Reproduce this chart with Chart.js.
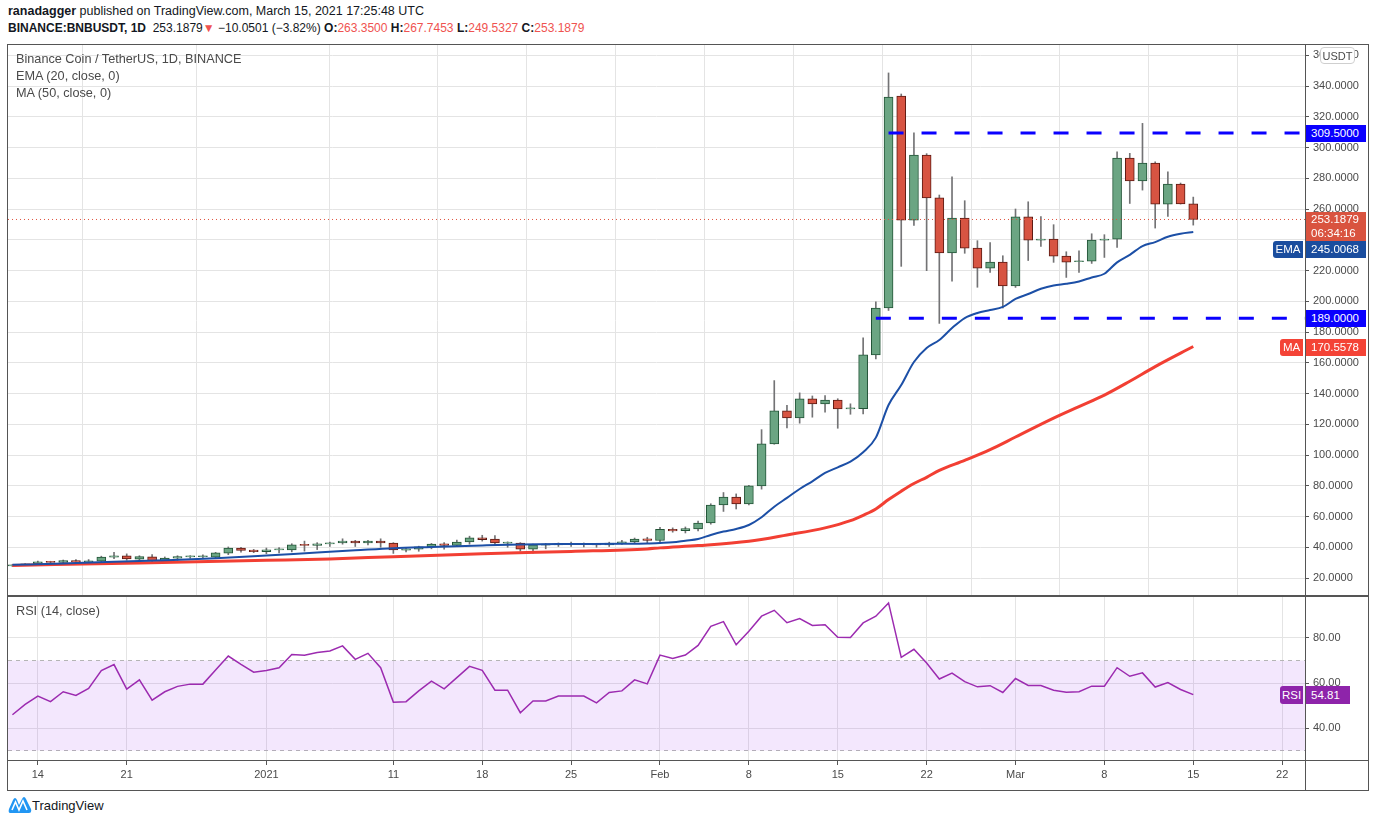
<!DOCTYPE html>
<html>
<head>
<meta charset="utf-8">
<title>BNBUSDT 1D</title>
<script src="https://cdn.jsdelivr.net/npm/chart.js@4.4.0/dist/chart.umd.min.js"></script>
<style>
body { margin: 0; width: 1376px; height: 823px; background: #fff; position: relative; overflow: hidden;
       font-family: 'Liberation Sans', Arial, sans-serif; color: #131722; }
.abs { position: absolute; white-space: nowrap; }
.red { color: #ef5350; }
#header1 { left: 8px; top: 4px; font-size: 12.5px; }
#header2 { left: 8px; top: 21px; font-size: 12px; }
.legend { left: 16px; font-size: 12.7px; color: #4a4a4a; }
.box { position: absolute; }
.line { position: absolute; background: #555; }
.tag { position: absolute; color: #fff; font-size: 11.5px; box-sizing: border-box; padding-left: 5px; white-space: nowrap; }
.side { position: absolute; color: #fff; font-size: 11.5px; box-sizing: border-box; text-align: center; border-radius: 3px 0 0 3px; }
#usdt { left: 1320px; top: 47px; width: 35px; height: 17px; border: 1px solid #cfcfcf; border-radius: 4px; background: #fff;
        font-size: 11px; color: #4a4a4a; text-align: center; line-height: 17px; box-sizing: border-box; }
#logo { left: 8px; top: 796px; font-size: 13px; color: #131722; }
</style>
</head>
<body>

<div id="header1" class="abs"><b>ranadagger</b> published on TradingView.com, March 15, 2021 17:25:48 UTC</div>
<div id="header2" class="abs"><b>BINANCE:BNBUSDT, 1D</b>&nbsp; 253.1879<span class="red">&#9660;</span> &minus;10.0501 (&minus;3.82%) <b>O:</b><span class="red">263.3500</span> <b>H:</b><span class="red">267.7453</span> <b>L:</b><span class="red">249.5327</span> <b>C:</b><span class="red">253.1879</span></div>

<div class="box" style="left:8px;top:45px;width:1360px;height:551px;"><canvas id="priceChart"></canvas></div>
<div class="box" style="left:8px;top:597px;width:1360px;height:193px;"><canvas id="rsiChart"></canvas></div>

<!-- frame -->
<div class="line" style="left:7px;top:44px;width:1362px;height:1px;"></div>
<div class="line" style="left:7px;top:44px;width:1px;height:747px;"></div>
<div class="line" style="left:1368px;top:44px;width:1px;height:747px;"></div>
<div class="line" style="left:7px;top:790px;width:1362px;height:1px;"></div>
<div class="line" style="left:7px;top:595px;width:1362px;height:2px;"></div>
<div class="line" style="left:7px;top:760px;width:1362px;height:1px;"></div>
<div class="line" style="left:1305px;top:44px;width:1px;height:747px;"></div>

<div class="abs legend" style="top:52px;">Binance Coin / TetherUS, 1D, BINANCE</div>
<div class="abs legend" style="top:69px;">EMA (20, close, 0)</div>
<div class="abs legend" style="top:86px;">MA (50, close, 0)</div>
<div class="abs legend" style="top:604px;">RSI (14, close)</div>
<div id="usdt" class="abs">USDT</div>

<div id="logo" class="abs">
  <svg width="24" height="18" viewBox="0 0 24 18" style="vertical-align:-4px">
    <path d="M2 17 Q0 17 1 13 L5 4 Q7 0 9 4 L11 9 L14 3 Q16 -1 18 3 L23 13 Q24 17 21 17 Z" fill="#2196f3"/>
    <path d="M4 14 L7.5 6 L11 14 L15 5 L19 14" stroke="#fff" stroke-width="1.6" fill="none"/>
  </svg>TradingView
</div>

<script>
// daily candles, index 0 = 12 Dec 2020, index 93 = 15 Mar 2021
const opens = [
    27.9, 28.4, 29.2, 30.6, 30.2, 31.3, 30.3, 31.0, 33.5, 34.4,
    32.3, 33.8, 31.3, 32.9, 33.7, 33.8, 33.6, 36.1, 39.5, 38.2,
    37.2, 38.3, 38.3, 41.7, 41.2, 42.1, 42.9, 44.1, 42.8, 44.1,
    42.8, 38.1, 38.7, 40.2, 42.3, 41.2, 43.4, 46.2, 45.4, 42.7,
    42.8, 38.7, 41.4, 41.6, 41.8, 41.7, 42.3, 41.5, 42.8, 43.4,
    45.5, 44.4, 51.6, 50.8, 51.9, 55.8, 67.5, 72.7, 68.2, 79.9,
    107.2, 128.7, 124.1, 136.5, 133.3, 135.8, 130.0, 130.2, 165.1, 195.6,
    333.5, 252.8, 295.1, 267.2, 231.4, 254.1, 234.6, 221.6, 225.5, 209.9,
    254.9, 239.8, 240.4, 229.4, 225.7, 226.1, 239.8, 240.4, 293.1, 278.2,
    289.9, 263.2, 276.2, 263.35
];
const highs = [
    28.7, 29.4, 31.0, 30.9, 31.7, 32.0, 32.0, 34.2, 36.7, 35.7,
    34.5, 35.2, 33.7, 34.5, 34.5, 35.0, 36.7, 40.2, 40.0, 38.6,
    39.5, 39.8, 42.3, 44.0, 43.0, 43.3, 45.5, 44.5, 44.5, 45.5,
    43.0, 39.5, 40.7, 42.5, 43.0, 44.7, 47.2, 47.8, 47.6, 43.5,
    43.0, 42.0, 42.5, 42.8, 43.3, 42.8, 42.5, 43.3, 44.5, 46.0,
    46.5, 53.0, 52.6, 53.2, 57.0, 68.3, 75.6, 74.7, 80.3, 116.5,
    148.4, 132.3, 140.4, 138.4, 138.6, 136.6, 133.3, 176.2, 199.7, 348.5,
    334.8, 309.6, 296.0, 269.1, 281.0, 265.4, 239.4, 238.1, 229.6, 260.0,
    264.7, 255.0, 249.8, 232.2, 232.8, 243.9, 243.3, 297.2, 296.2, 315.7,
    290.7, 284.2, 276.9, 267.7453
];
const lows = [
    27.5, 28.1, 28.9, 29.9, 29.8, 29.9, 30.0, 30.6, 32.6, 31.6,
    31.0, 30.5, 30.2, 31.5, 32.8, 32.5, 33.0, 35.2, 36.8, 36.5,
    35.8, 36.3, 37.0, 37.5, 38.5, 40.5, 42.0, 40.5, 41.5, 40.0,
    36.0, 37.0, 37.4, 39.0, 38.7, 40.5, 42.0, 44.0, 41.5, 40.0,
    37.5, 36.2, 39.0, 40.5, 40.6, 40.2, 40.0, 40.5, 41.8, 42.7,
    43.0, 43.2, 49.8, 49.3, 50.7, 55.0, 63.3, 64.9, 67.6, 77.8,
    107.0, 117.6, 120.7, 124.6, 127.8, 117.4, 126.5, 126.7, 162.5, 194.0,
    222.7, 249.4, 219.9, 185.6, 213.0, 231.2, 209.1, 218.8, 195.6, 209.0,
    226.5, 235.7, 225.3, 215.5, 218.8, 224.6, 228.5, 235.0, 263.6, 272.3,
    247.6, 255.2, 263.2, 249.5327
];
const closes = [
    28.4, 29.2, 30.6, 30.2, 31.3, 30.3, 31.2, 33.6, 34.4, 32.4,
    33.9, 31.3, 33.0, 33.9, 33.9, 34.0, 36.3, 39.5, 38.0, 37.2,
    38.4, 38.6, 41.5, 41.2, 42.3, 42.9, 44.1, 42.8, 44.1, 42.8,
    38.2, 38.9, 40.2, 42.1, 41.2, 43.4, 46.2, 44.9, 42.8, 42.9,
    38.7, 41.5, 41.7, 42.3, 42.3, 42.3, 41.5, 42.8, 43.6, 45.3,
    44.4, 51.6, 50.6, 52.1, 55.8, 67.5, 72.7, 68.2, 79.9, 107.2,
    128.7, 124.1, 136.5, 133.3, 135.8, 130.0, 130.4, 165.1, 195.6, 332.8,
    252.8, 295.1, 267.2, 231.4, 254.1, 234.6, 221.6, 225.5, 209.9, 254.9,
    239.8, 240.4, 229.4, 225.5, 226.0, 239.8, 240.4, 293.1, 278.2, 289.9,
    263.2, 276.2, 263.35, 253.1879
];

const rsiValues = [
    45.9, 50.5, 54.2, 51.7, 56.1, 54.5, 57.6, 65.5, 68.2, 57.3,
    61.4, 52.4, 56.1, 58.5, 59.5, 59.5, 65.8, 72.0, 68.3, 64.8,
    65.6, 66.8, 72.7, 72.3, 73.6, 74.2, 76.5, 70.5, 73.2, 66.8,
    51.5, 51.7, 56.5, 60.8, 57.4, 62.4, 67.4, 65.6, 56.8, 56.8,
    46.8, 52.0, 52.0, 54.2, 54.2, 54.2, 51.2, 55.8, 56.5, 61.4,
    59.6, 72.4, 70.9, 72.4, 76.7, 85.2, 87.3, 77.0, 83.0, 89.7,
    92.3, 86.8, 88.6, 85.6, 85.9, 80.3, 80.2, 86.7, 89.7, 95.6,
    71.4, 75.0, 68.9, 61.8, 64.4, 60.6, 58.3, 58.8, 55.8, 62.0,
    58.9, 58.9, 56.8, 55.9, 56.1, 58.6, 58.6, 66.8, 63.0, 64.5,
    58.2, 60.2, 57.1, 54.81
];

// EMA 20 and MA 50 at these days
const emaDays = [0, 4, 8, 12, 16, 20, 24, 27, 30, 33, 37, 40, 44, 48, 50, 51, 52, 53, 54, 55, 56, 57, 58,
    59, 60, 61, 62, 63, 64, 65, 66, 67, 68, 69, 70, 71, 72, 73, 74, 75, 76, 77, 78, 79, 80, 81, 82, 83,
    84, 85, 86, 87, 88, 89, 90, 91, 92, 93];
const emaValues = [28.6, 29.4, 30.6, 31.6, 32.8, 34.6, 36.6, 38.0, 39.4, 40.2, 41.2, 41.8, 42.1, 42.3, 42.5,
    42.8, 43.2, 44.3, 45.4, 48.0, 50.2, 51.9, 54.5, 59.5, 66.4, 72.1, 77.9, 82.9, 88.3, 92.0, 95.7, 101.8,
    111.3, 132.5, 145.5, 160.5, 169.6, 174.8, 182.6, 189.1, 192.4, 194.3, 196.3, 201.5, 204.7, 208.1, 210.3,
    211.4, 212.9, 215.5, 217.9, 225.3, 230.2, 235.9, 238.5, 242.0, 243.9, 245.0068];
const maDays = [0, 10, 20, 25, 30, 37, 44, 50, 51, 54, 58, 61, 64, 66, 67, 68, 69, 70, 71, 72, 73, 75, 77,
    79, 82, 84, 86, 88, 90, 93];
const maValues = [28.2, 29.8, 31.5, 32.4, 33.9, 35.8, 37.3, 38.9, 39.6, 41.1, 43.9, 48.0, 52.6, 57.3, 60.8,
    64.9, 71.0, 76.5, 81.5, 85.5, 90.0, 96.5, 103.5, 111.7, 124.0, 131.5, 139.0, 148.0, 157.5, 170.5578];

const tickDays = [2, 9, 20, 30, 37, 44, 51, 58, 65, 72, 79, 86, 93, 100];
const tickLabels = ['14', '21', '2021', '11', '18', '25', 'Feb', '8', '15', '22', 'Mar', '8', '15', '22'];
const priceTicks = [20, 40, 60, 80, 100, 120, 140, 160, 180, 200, 220, 240, 260, 280, 300, 320, 340, 360];
const rsiTicks = [40, 60, 80];

const levelValues = [309.5, 189];
const levelStartDays = [69, 68];
const lastPrice = 253.1879;
const lastEma = 245.0068;
const lastMa = 170.5578;
const lastRsi = 54.81;

const dayMin = -0.35;
const dayMax = 101.8;

Chart.defaults.font.family = "'Liberation Sans', Arial, sans-serif";
Chart.defaults.font.size = 11;
Chart.defaults.color = '#4a4a4a';

const gridColor = '#e4e4e4';

function timeAxis(showLabels) {
    return {
        type: 'linear',
        min: dayMin,
        max: dayMax,
        offset: false,
        afterBuildTicks: function (scale) {
            scale.ticks = tickDays.map(d => ({ value: d }));
        },
        afterFit: function (scale) {
            scale.height = showLabels ? 30 : 0;
            scale.paddingLeft = 0;
            scale.paddingRight = 0;
        },
        ticks: {
            display: showLabels,
            autoSkip: false,
            maxRotation: 0,
            padding: 3,
            callback: (v, i) => tickLabels[i]
        },
        grid: { color: gridColor, drawTicks: showLabels, tickLength: 5, tickColor: '#555' },
        border: { display: false }
    };
}

function valueAxis(min, max, ticks, digits) {
    return {
        position: 'right',
        min: min,
        max: max,
        afterBuildTicks: function (scale) {
            scale.ticks = ticks.map(v => ({ value: v }));
        },
        afterFit: function (scale) {
            scale.width = 63;
            scale.paddingTop = 0;
            scale.paddingBottom = 0;
        },
        ticks: { padding: 4, callback: v => v.toFixed(digits) },
        grid: { color: gridColor, tickLength: 4, tickColor: '#555' },
        border: { display: false }
    };
}

function flatLine(value, fromDay) {
    return [{ x: fromDay, y: value }, { x: dayMax, y: value }];
}

const bodyColors = opens.map((o, i) => closes[i] >= o ? '#6ba583' : '#d75442');
const bodyBorders = opens.map((o, i) => closes[i] >= o ? '#225437' : '#5b1a13');

const priceChart = new Chart(document.getElementById('priceChart'), {
    type: 'bar',
    data: {
        datasets: [
            {
                type: 'line', order: 0,
                data: flatLine(lastPrice, dayMin),
                borderColor: '#e0533f', borderWidth: 1, borderDash: [1, 3], pointRadius: 0
            },
            {
                type: 'line', order: 1,
                data: flatLine(levelValues[0], levelStartDays[0]),
                borderColor: '#0a00ff', borderWidth: 3, borderDash: [15, 18], pointRadius: 0
            },
            {
                type: 'line', order: 1,
                data: flatLine(levelValues[1], levelStartDays[1]),
                borderColor: '#0a00ff', borderWidth: 3, borderDash: [15, 18], pointRadius: 0
            },
            {
                type: 'line', order: 2,
                data: emaDays.map((d, k) => ({ x: d, y: emaValues[k] })),
                borderColor: '#1c4fa6', borderWidth: 2, pointRadius: 0, cubicInterpolationMode: 'monotone'
            },
            {
                type: 'line', order: 3,
                data: maDays.map((d, k) => ({ x: d, y: maValues[k] })),
                borderColor: '#f23f33', borderWidth: 3, pointRadius: 0, cubicInterpolationMode: 'monotone'
            },
            {
                order: 4,
                data: opens.map((o, i) => ({ x: i, y: [o, closes[i]] })),
                backgroundColor: bodyColors,
                borderColor: bodyBorders,
                borderWidth: 1,
                borderSkipped: false,
                barThickness: 9,
                minBarLength: 1,
                grouped: false
            },
            {
                order: 5,
                data: lows.map((l, i) => ({ x: i, y: [l, highs[i]] })),
                backgroundColor: '#737375',
                borderWidth: 0,
                barThickness: 1,
                grouped: false
            }
        ]
    },
    options: {
        responsive: true,
        maintainAspectRatio: false,
        animation: false,
        layout: { padding: 0 },
        plugins: { legend: { display: false }, tooltip: { enabled: false } },
        scales: {
            x: timeAxis(false),
            y: valueAxis(8.3, 366.67, priceTicks, 4)
        }
    }
});

const rsiChart = new Chart(document.getElementById('rsiChart'), {
    type: 'line',
    data: {
        datasets: [
            {
                data: rsiValues.map((v, i) => ({ x: i, y: v })),
                borderColor: '#9c2bb0', borderWidth: 1.5, pointRadius: 0
            },
            {
                data: flatLine(70, dayMin),
                borderColor: '#b5b5b5', borderWidth: 1, borderDash: [4, 4], pointRadius: 0,
                fill: '+1', backgroundColor: 'rgba(160, 60, 240, 0.12)'
            },
            {
                data: flatLine(30, dayMin),
                borderColor: '#b5b5b5', borderWidth: 1, borderDash: [4, 4], pointRadius: 0, fill: false
            }
        ]
    },
    options: {
        responsive: true,
        maintainAspectRatio: false,
        animation: false,
        layout: { padding: 0 },
        plugins: { legend: { display: false }, tooltip: { enabled: false } },
        scales: {
            x: timeAxis(true),
            y: valueAxis(25.78, 98.22, rsiTicks, 2)
        }
    }
});

// price tags on the right axis
function addTag(cls, html, left, top, width, height, bg) {
    const d = document.createElement('div');
    d.className = cls;
    d.style.left = left + 'px';
    d.style.top = top + 'px';
    d.style.width = width + 'px';
    d.style.height = height + 'px';
    d.style.lineHeight = (cls === 'tag' && height > 20 ? 14 : height) + 'px';
    d.style.background = bg;
    d.innerHTML = html;
    document.body.appendChild(d);
}

const py = v => priceChart.scales.y.getPixelForValue(v) + 45;
const ry = v => rsiChart.scales.y.getPixelForValue(v) + 597;

addTag('tag', levelValues[0].toFixed(4), 1306, py(levelValues[0]) - 8, 60, 17, '#0a00ff');
addTag('tag', levelValues[1].toFixed(4), 1306, py(levelValues[1]) - 8, 60, 17, '#0a00ff');

const curTop = py(lastPrice) - 7;
addTag('tag', lastPrice.toFixed(4) + '<br>06:34:16', 1306, curTop, 60, 29, '#d9533f');
addTag('tag', lastEma.toFixed(4), 1306, curTop + 29, 60, 17, '#1a4d9e');
addTag('side', 'EMA', 1273, curTop + 29, 30, 17, '#1a4d9e');

addTag('tag', lastMa.toFixed(4), 1306, py(lastMa) - 8, 60, 17, '#f44336');
addTag('side', 'MA', 1280, py(lastMa) - 8, 23, 17, '#f44336');

addTag('tag', lastRsi.toFixed(2), 1306, ry(lastRsi) - 9, 44, 18, '#8e24aa');
addTag('side', 'RSI', 1280, ry(lastRsi) - 9, 23, 18, '#8e24aa');
</script>
</body>
</html>
